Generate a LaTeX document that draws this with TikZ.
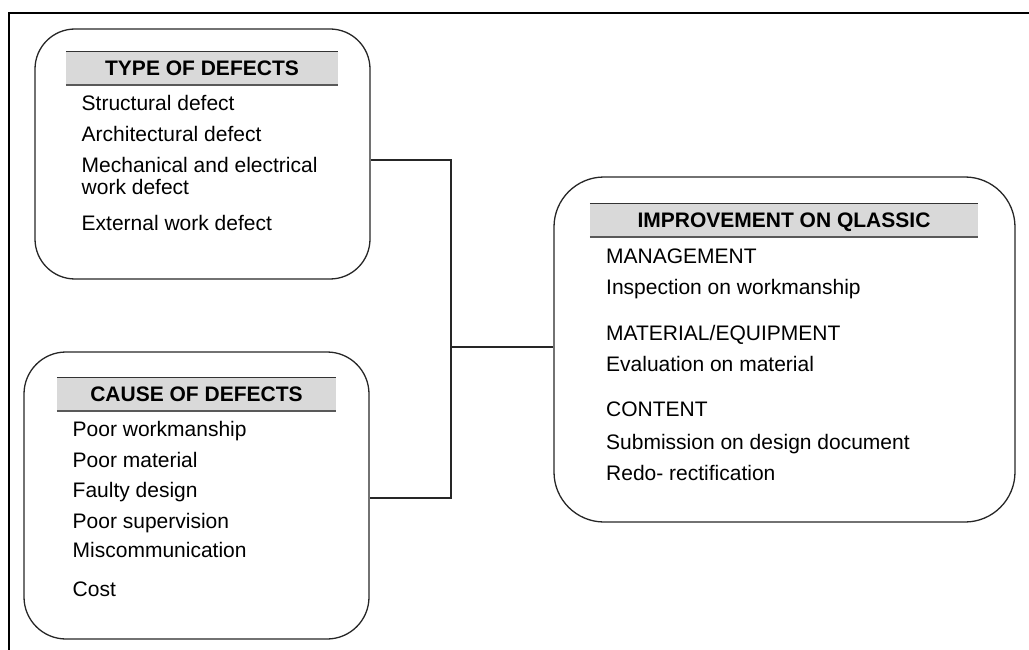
\documentclass[tikz,border=0pt]{standalone}
\usepackage{fontspec}
\setmainfont{Liberation Sans}
\begin{document}
\begin{tikzpicture}[x=1pt,y=-1pt,
  box/.style={draw=black!85,line width=1.3pt,rounded corners=#1,inner sep=0pt},
  hbar/.style={fill=gray!30,inner sep=0pt,minimum height=33pt,text height=15pt,text depth=0pt,font=\fontsize{21}{25}\selectfont\bfseries},
  itemtext/.style={anchor=base west,inner sep=0pt,font=\fontsize{21}{25}\selectfont},
  conn/.style={draw=black!85,line width=1.3pt},
  frame/.style={line width=2.4pt,black}]
\useasboundingbox (0,0) rectangle (1029,650);
% frame
\coordinate (ftl) at (9,13);
\coordinate (ftr) at (1029,13);
\coordinate (fbl) at (9,650);
\draw[frame] (ftr) -- (ftl) -- (fbl);
% boxes
\node[box=40pt,minimum width=335pt,minimum height=250pt] (b1) at (202.5,154) {};
\node[box=42pt,minimum width=345pt,minimum height=287pt] (b2) at (196.5,495.5) {};
\node[box=50pt,minimum width=461pt,minimum height=345pt] (b3) at (784.5,349.5) {};
% header bars
\node[hbar,minimum width=272pt] (h1) at (202,68) {TYPE OF DEFECTS};
\node[hbar,minimum width=279pt] (h2) at (196.5,394) {CAUSE OF DEFECTS};
\node[hbar,minimum width=388pt] (h3) at (784,220) {IMPROVEMENT ON QLASSIC};
\foreach \h in {h1,h2,h3}{
  \draw[black!80,line width=1pt] (\h.north west) -- (\h.north east);
  \draw[black!65,line width=2pt] (\h.south west) -- (\h.south east);
}
% box 1 text
\node[itemtext] (t11) at (81.5,111) {Structural defect};
\node[itemtext] (t12) at (81.5,141.7) {Architectural defect};
\node[itemtext] (t13) at (81.5,172.3) {Mechanical and electrical};
\node[itemtext] (t14) at (81.5,195) {work defect};
\node[itemtext] (t15) at (81.5,230.7) {External work defect};
% box 2 text
\node[itemtext] (t21) at (72.5,436.7) {Poor workmanship};
\node[itemtext] (t22) at (72.5,467.5) {Poor material};
\node[itemtext] (t23) at (72.5,497) {Faulty design};
\node[itemtext] (t24) at (72.5,528) {Poor supervision};
\node[itemtext] (t25) at (72.5,557) {Miscommunication};
\node[itemtext] (t26) at (72.5,596) {Cost};
% box 3 text
\node[itemtext] (t31) at (606,263.3) {MANAGEMENT};
\node[itemtext] (t32) at (606,294.5) {Inspection on workmanship};
\node[itemtext] (t33) at (606,340) {MATERIAL/EQUIPMENT};
\node[itemtext] (t34) at (606,371.5) {Evaluation on material};
\node[itemtext] (t35) at (606,416.7) {CONTENT};
\node[itemtext] (t36) at (606,449.5) {Submission on design document};
\node[itemtext] (t37) at (606,480.5) {Redo- rectification};
% connectors
\coordinate (jt) at (451,160);
\coordinate (jm) at (451,347);
\coordinate (jb) at (451,498);
\draw[conn] (b1.east |- jt) -- (jt) -- (jb) -- (b2.east |- jb);
\draw[conn] (jm) -- (b3.west |- jm);
\end{tikzpicture}
\end{document}
